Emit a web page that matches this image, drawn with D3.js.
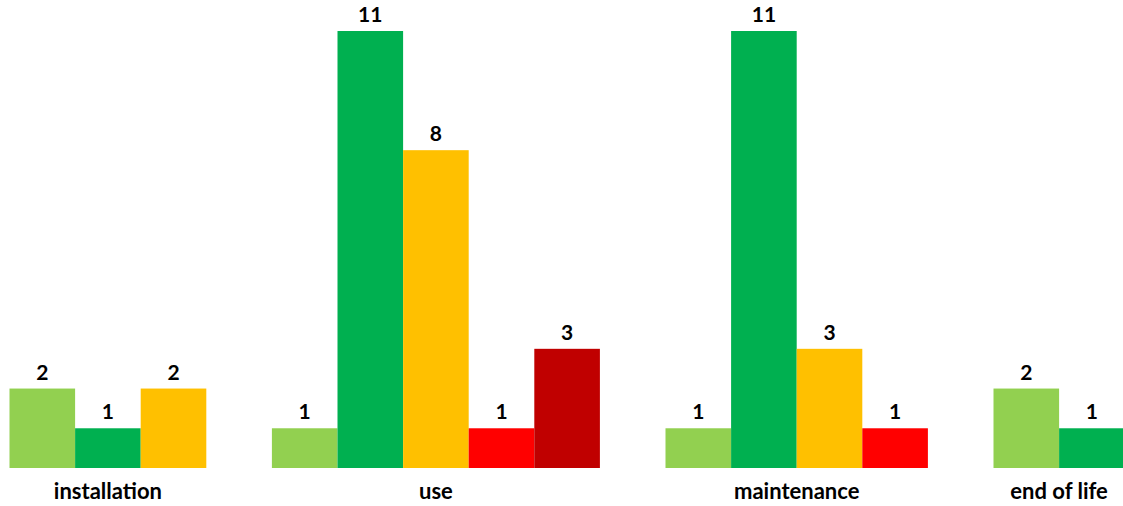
<!DOCTYPE html>
<html>
<head>
<meta charset="utf-8">
<script src="https://cdn.jsdelivr.net/npm/d3@7"></script>
<style>
  html, body { margin: 0; padding: 0; background: #fff; }
  svg text { font-family: Lato, "Open Sans", sans-serif; font-weight: bold; fill: #000; }
</style>
</head>
<body>
<div id="chart"></div>
<script>
const categories = ["installation", "use", "maintenance", "end of life"];
const seriesNames = ["level 1", "level 2", "level 3", "level 4", "level 5"];
const seriesColors = ["#92D050", "#00B050", "#FFC000", "#FF0000", "#C00000"];
const level1 = [2, 1, 1, 2];
const level2 = [1, 11, 11, 1];
const level3 = [2, 8, 3, 0];
const level4 = [0, 1, 1, 0];
const level5 = [0, 3, 0, 0];
const seriesValues = [level1, level2, level3, level4, level5];

const W = 1123, H = 506;
const svg = d3.select("#chart").append("svg")
  .attr("width", W).attr("height", H)
  .attr("xmlns", "http://www.w3.org/2000/svg");

// only non-zero bars take a slot; one empty slot between categories
const bars = [];
const slots = [];
categories.forEach((c, ci) => {
  seriesNames.forEach((s, si) => {
    const v = seriesValues[si][ci];
    if (v > 0) {
      const key = c + "|" + s;
      bars.push({ key, cat: c, si, value: v });
      slots.push(key);
    }
  });
  if (ci < categories.length - 1) slots.push("gap" + ci);
});

const x = d3.scaleBand().domain(slots).range([9.5, 9.5 + slots.length * 65.6]).padding(0);
const y = d3.scaleLinear().domain([0, 11]).range([468, 31]);

svg.selectAll("rect.bar").data(bars).join("rect")
  .attr("class", "bar")
  .attr("x", d => x(d.key))
  .attr("y", d => y(d.value))
  .attr("width", x.bandwidth())
  .attr("height", d => y(0) - y(d.value))
  .attr("fill", d => seriesColors[d.si]);

svg.selectAll("text.val").data(bars).join("text")
  .attr("class", "val")
  .attr("x", d => x(d.key) + x.bandwidth() / 2)
  .attr("y", d => y(d.value) - 9)
  .attr("text-anchor", "middle")
  .style("font-size", "21px")
  .text(d => d.value);

const catCenter = c => {
  const ks = bars.filter(b => b.cat === c).map(b => b.key);
  return (x(ks[0]) + x(ks[ks.length - 1]) + x.bandwidth()) / 2;
};

svg.selectAll("text.cat").data(categories).join("text")
  .attr("class", "cat")
  .attr("x", c => catCenter(c))
  .attr("y", 499)
  .attr("text-anchor", "middle")
  .style("font-size", "22px")
  .text(c => c);
</script>
</body>
</html>
